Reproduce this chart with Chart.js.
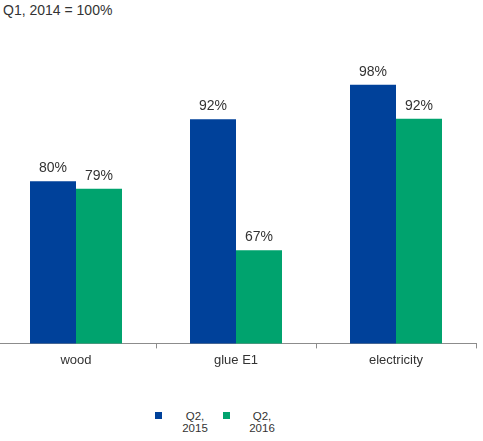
<!DOCTYPE html>
<html lang="en">
<head>
<meta charset="UTF-8">
<title>Q1, 2014 = 100%</title>
<script src="https://cdn.jsdelivr.net/npm/chart.js"></script>
<style>
body {
    margin: 0;
    width: 483px;
    height: 441px;
    background: #fff;
    font-family: "Liberation Sans", Arial, sans-serif;
    color: #333;
    position: relative;
    overflow: hidden;
}
#title {
    position: absolute;
    left: 3px;
    top: 2px;
    font-size: 14px;
}
#wrap {
    position: absolute;
    left: -4px;
    top: 0;
    width: 487px;
    height: 372px;
}
.leg {
    position: absolute;
    top: 410px;
    font-size: 11.5px;
    line-height: 12px;
}
.sw {
    position: absolute;
    width: 7px;
    height: 7px;
    top: 2px;
}
.lt {
    position: absolute;
    top: 0;
    width: 40px;
    text-align: center;
}
</style>
</head>
<body>
<div id="title">Q1, 2014 = 100%</div>
<div id="wrap"><canvas id="chart"></canvas></div>
<div class="leg" style="left:155px"><div class="sw" id="sw0"></div><div class="lt" style="left:20px">Q2,<br>2015</div></div>
<div class="leg" style="left:223px"><div class="sw" id="sw1"></div><div class="lt" style="left:19px">Q2,<br>2016</div></div>
<script>
// values (Q1 2014 = 100)
const categories = ["wood", "glue E1", "electricity"];
const q2_2015 = [80.1, 91.6, 98.0];
const q2_2016 = [78.7, 67.3, 91.7];
const seriesNames = ["Q2, 2015", "Q2, 2016"];
const colors = ["#00419a", "#00a36e"];

document.getElementById("sw0").style.background = colors[0];
document.getElementById("sw1").style.background = colors[1];

// percent labels above each bar
const barLabels = {
    id: "barLabels",
    afterDatasetsDraw(chart) {
        const ctx = chart.ctx;
        ctx.save();
        ctx.font = "14px 'Liberation Sans', Arial, sans-serif";
        ctx.fillStyle = "#333";
        ctx.textAlign = "center";
        ctx.textBaseline = "bottom";
        chart.data.datasets.forEach((ds, i) => {
            chart.getDatasetMeta(i).data.forEach((bar, j) => {
                ctx.fillText(Math.round(ds.data[j]) + "%", bar.x, bar.y - 6);
            });
        });
        ctx.restore();
    }
};

new Chart(document.getElementById("chart"), {
    type: "bar",
    data: {
        labels: categories,
        datasets: [
            { label: seriesNames[0], data: q2_2015, backgroundColor: colors[0] },
            { label: seriesNames[1], data: q2_2016, backgroundColor: colors[1] }
        ]
    },
    options: {
        responsive: true,
        maintainAspectRatio: false,
        animation: false,
        layout: { padding: { top: 74, right: 7, bottom: 0, left: 0 } },
        plugins: { legend: { display: false }, tooltip: { enabled: false } },
        datasets: { bar: { categoryPercentage: 0.575, barPercentage: 1 } },
        scales: {
            x: {
                border: { color: "#8c8c8c", width: 1 },
                grid: { drawOnChartArea: false, drawTicks: true, tickLength: 5, color: "#8c8c8c" },
                ticks: { color: "#333", padding: 4, font: { size: 13, family: "'Liberation Sans', Arial, sans-serif" } }
            },
            y: { display: false, min: 50, max: 100 }
        }
    },
    plugins: [barLabels]
});
</script>
</body>
</html>
